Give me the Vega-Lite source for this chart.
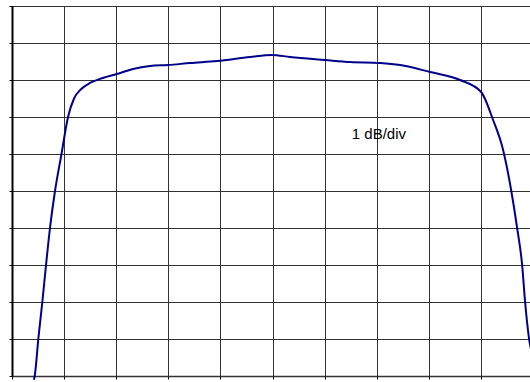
{
  "$schema": "https://vega.github.io/schema/vega-lite/v6.json",
  "width": 518,
  "height": 370,
  "autosize": {"type": "none"},
  "padding": {"left": 12, "top": 6, "right": 0, "bottom": 6},
  "background": "white",
  "config": {
    "view": {"stroke": null},
    "axisX": {
      "values": [0, 1, 2, 3, 4, 5, 6, 7, 8, 9],
      "labels": false, "title": null,
      "tickSize": 3, "tickColor": "#000", "tickWidth": 1,
      "domainColor": "#333", "domainWidth": 1.5,
      "grid": true, "gridColor": "#333", "gridWidth": 1, "gridOpacity": 1
    },
    "axisY": {
      "values": [0, 1, 2, 3, 4, 5, 6, 7, 8, 9, 10],
      "labels": false, "title": null,
      "tickSize": 3, "tickColor": "#000", "tickWidth": 1,
      "domainColor": "#000", "domainWidth": 2,
      "grid": true, "gridColor": "#333", "gridWidth": 1, "gridOpacity": 1
    }
  },
  "layer": [
    {
      "data": {"values": [
        {"x": 0.42, "y": -0.1},
        {"x": 0.436, "y": 0},
        {"x": 0.505, "y": 1.0},
        {"x": 0.582, "y": 2.0},
        {"x": 0.653, "y": 3.0},
        {"x": 0.729, "y": 4.0},
        {"x": 0.825, "y": 5.0},
        {"x": 0.95, "y": 6.0},
        {"x": 1.075, "y": 7.0},
        {"x": 1.19, "y": 7.5},
        {"x": 1.324, "y": 7.75},
        {"x": 1.497, "y": 7.92},
        {"x": 1.689, "y": 8.03},
        {"x": 2.015, "y": 8.162},
        {"x": 2.322, "y": 8.297},
        {"x": 2.649, "y": 8.378},
        {"x": 2.994, "y": 8.405},
        {"x": 3.417, "y": 8.459},
        {"x": 3.935, "y": 8.514},
        {"x": 4.568, "y": 8.622},
        {"x": 4.99, "y": 8.676},
        {"x": 5.336, "y": 8.622},
        {"x": 6.008, "y": 8.541},
        {"x": 6.488, "y": 8.486},
        {"x": 7.063, "y": 8.459},
        {"x": 7.447, "y": 8.405},
        {"x": 8.023, "y": 8.216},
        {"x": 8.599, "y": 8.0},
        {"x": 9.002, "y": 7.676},
        {"x": 9.232, "y": 6.919},
        {"x": 9.424, "y": 6.108},
        {"x": 9.578, "y": 5.027},
        {"x": 9.693, "y": 4.0},
        {"x": 9.789, "y": 3.0},
        {"x": 9.846, "y": 2.0},
        {"x": 9.923, "y": 1.0},
        {"x": 9.962, "y": 0.7}
      ]},
      "mark": {"type": "line", "color": "#00008b", "strokeWidth": 2, "interpolate": "monotone"},
      "encoding": {
        "x": {"field": "x", "type": "quantitative", "scale": {"domain": [0, 9.94], "nice": false, "zero": false}},
        "y": {"field": "y", "type": "quantitative", "scale": {"domain": [0, 10], "nice": false, "zero": false}}
      }
    },
    {
      "mark": {"type": "rule", "color": "#000", "strokeWidth": 2},
      "encoding": {"y": {"datum": 10, "type": "quantitative"}}
    },
    {
      "data": {"values": [{"x": 7.04, "y": 6.4, "label": "1 dB/div"}]},
      "mark": {"type": "text", "font": "Liberation Sans, Arial, sans-serif", "fontSize": 15, "align": "center", "baseline": "alphabetic", "color": "#000"},
      "encoding": {
        "x": {"field": "x", "type": "quantitative"},
        "y": {"field": "y", "type": "quantitative"},
        "text": {"field": "label"}
      }
    }
  ]
}
